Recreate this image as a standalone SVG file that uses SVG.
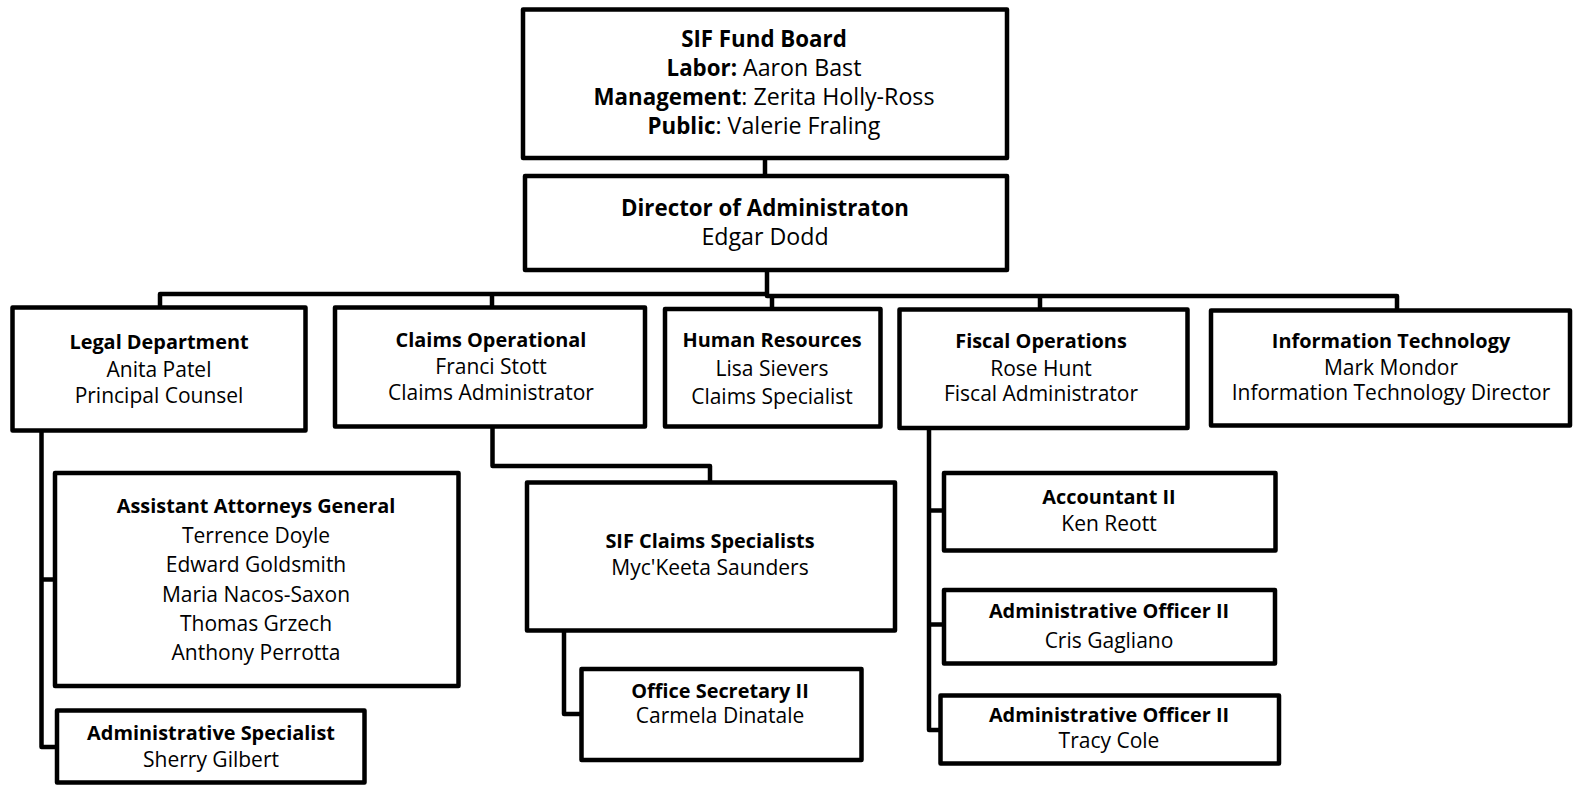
<svg xmlns="http://www.w3.org/2000/svg" width="1574" height="786" viewBox="0 0 1574 786">
<style>
.box{fill:#fff;stroke:#000;stroke-width:4.5;stroke-linejoin:round}
.ln{fill:none;stroke:#000;stroke-width:4.5;stroke-linejoin:round}
text{font-family:"Open Sans","Liberation Sans",sans-serif;font-size:21px;fill:#000;text-anchor:middle}
.b{font-weight:bold;font-size:19.9px}
.t text{font-size:23.2px}
.t .b{font-size:22.3px}
</style>
<rect width="1574" height="786" fill="#fff"/>
<g id="connectors">
<path class="ln" d="M765,158 V176"/>
<path class="ln" d="M767,270 V294 H160 V307"/>
<path class="ln" d="M767,294 V296 H1397 V310"/>
<path class="ln" d="M492,294 V307"/>
<path class="ln" d="M772,296 V309"/>
<path class="ln" d="M1040,294 V309"/>
<path class="ln" d="M41.5,430 V747 H57"/>
<path class="ln" d="M41.5,579.5 H55"/>
<path class="ln" d="M492.5,426 V466 H710 V482"/>
<path class="ln" d="M564,630 V714 H581"/>
<path class="ln" d="M929,428 V730 H940"/>
<path class="ln" d="M929,510.5 H944"/>
<path class="ln" d="M929,624.5 H944"/>
</g>
<g id="board" class="t">
<rect class="box" x="523" y="9.5" width="484" height="148.5"/>
<text x="764" y="46.5" class="b">SIF Fund Board</text>
<text x="764" y="76"><tspan class="b">Labor:</tspan> Aaron Bast</text>
<text x="764" y="105"><tspan class="b">Management</tspan>: Zerita Holly-Ross</text>
<text x="764" y="134"><tspan class="b">Public</tspan>: Valerie Fraling</text>
</g>
<g id="director" class="t">
<rect class="box" x="525" y="176" width="482" height="94"/>
<text x="765" y="216" class="b">Director of Administraton</text>
<text x="765" y="245">Edgar Dodd</text>
</g>
<g id="legal">
<rect class="box" x="12.5" y="307.5" width="293" height="123"/>
<text x="159" y="349" class="b">Legal Department</text>
<text x="159" y="376.5">Anita Patel</text>
<text x="159" y="403">Principal Counsel</text>
</g>
<g id="claims">
<rect class="box" x="335" y="307.5" width="310" height="119"/>
<text x="491" y="347" class="b">Claims Operational</text>
<text x="491" y="374">Franci Stott</text>
<text x="491" y="400">Claims Administrator</text>
</g>
<g id="hr">
<rect class="box" x="665" y="309" width="215.5" height="117.5"/>
<text x="772" y="346.5" class="b">Human Resources</text>
<text x="772" y="375.5">Lisa Sievers</text>
<text x="772" y="404">Claims Specialist</text>
</g>
<g id="fiscal">
<rect class="box" x="899.5" y="309.5" width="288" height="118.5"/>
<text x="1041" y="348" class="b">Fiscal Operations</text>
<text x="1041" y="375.5">Rose Hunt</text>
<text x="1041" y="400.5">Fiscal Administrator</text>
</g>
<g id="it">
<rect class="box" x="1211" y="310.5" width="359" height="115"/>
<text x="1391" y="348" class="b">Information Technology</text>
<text x="1391" y="375">Mark Mondor</text>
<text x="1391" y="400">Information Technology Director</text>
</g>
<g id="aag">
<rect class="box" x="55" y="473" width="403.5" height="213"/>
<text x="256" y="513.3" class="b">Assistant Attorneys General</text>
<text x="256" y="543.3">Terrence Doyle</text>
<text x="256" y="572.3">Edward Goldsmith</text>
<text x="256" y="601.7">Maria Nacos-Saxon</text>
<text x="256" y="631">Thomas Grzech</text>
<text x="256" y="660">Anthony Perrotta</text>
</g>
<g id="adminspec">
<rect class="box" x="57" y="710.5" width="307.5" height="72"/>
<text x="211" y="740" class="b">Administrative Specialist</text>
<text x="211" y="766.7">Sherry Gilbert</text>
</g>
<g id="sifclaims">
<rect class="box" x="527" y="482.5" width="368" height="148"/>
<text x="710" y="548.3" class="b">SIF Claims Specialists</text>
<text x="710" y="575">Myc'Keeta Saunders</text>
</g>
<g id="officesec">
<rect class="box" x="581.5" y="669" width="280" height="91"/>
<text x="720" y="697.7" class="b">Office Secretary II</text>
<text x="720" y="723.3">Carmela Dinatale</text>
</g>
<g id="accountant">
<rect class="box" x="944" y="473" width="331.5" height="77.5"/>
<text x="1109" y="504.3" class="b">Accountant II</text>
<text x="1109" y="530.7">Ken Reott</text>
</g>
<g id="ao1">
<rect class="box" x="944" y="590" width="331" height="73.5"/>
<text x="1109" y="618.3" class="b">Administrative Officer II</text>
<text x="1109" y="648.3">Cris Gagliano</text>
</g>
<g id="ao2">
<rect class="box" x="940.5" y="695.5" width="338.5" height="68"/>
<text x="1109" y="721.7" class="b">Administrative Officer II</text>
<text x="1109" y="748.3">Tracy Cole</text>
</g>
</svg>
